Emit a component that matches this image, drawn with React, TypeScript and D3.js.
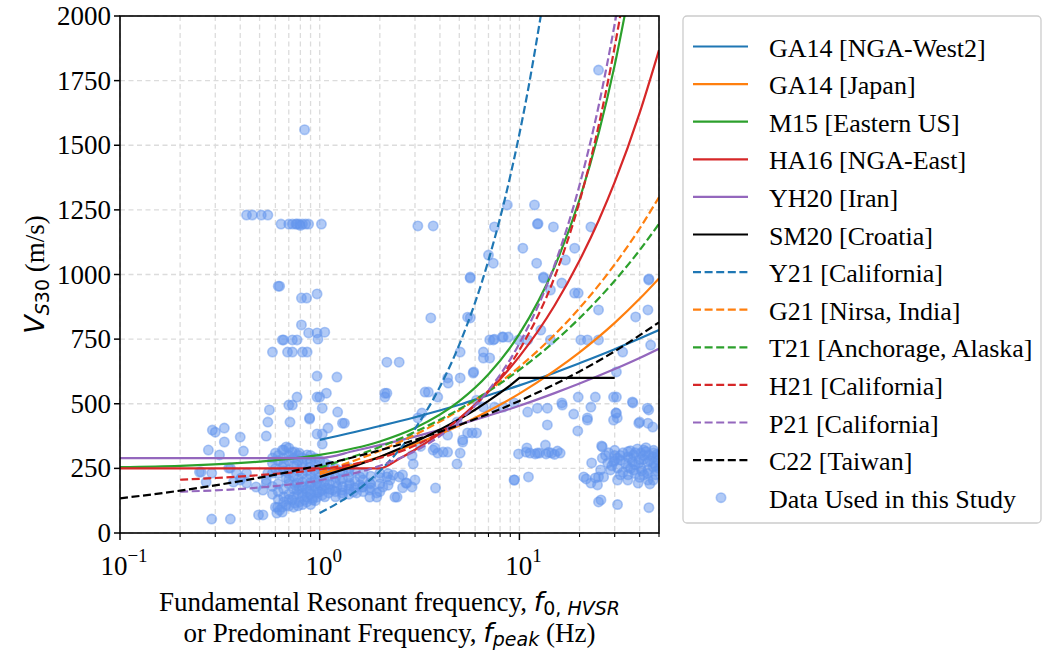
import React from 'react';
import * as d3 from 'd3';

const W = 1043;
const H = 653;
const PL = 120, PR = 659, PT = 16, PB = 533;

const yTicks = [0, 250, 500, 750, 1000, 1250, 1500, 1750, 2000];
const xMajor = [0.1, 1, 10];
const xMajorExp = ['\u22121', '0', '1'];

type P = [number, number];

const ga14West: P[] = [[1, 360], [2, 414], [3, 448], [5, 496], [7, 533], [10, 571], [15, 620], [20, 657], [30, 711], [40, 752], [50, 785]];
const ga14Japan: P[] = [[1, 228], [2, 295], [3, 344], [5, 416], [7, 472], [10, 539], [15, 628], [20, 699], [30, 813], [40, 906], [50, 985]];
const m15: P[] = [[0.1, 255], [0.2, 260], [0.5, 276], [1, 302], [2, 354], [3, 406], [5, 510], [7, 614], [10, 770], [15, 1030], [20, 1290], [25, 1550], [30, 1810], [35, 2070]];
const ha16: P[] = [[0.1, 250], [0.5, 250], [1, 250], [2, 250], [2.5, 287], [3, 322], [4, 385], [5, 443], [7, 547], [10, 683], [15, 880], [20, 1054], [25, 1211], [30, 1357], [40, 1625], [50, 1868]];
const yh20: P[] = [[0.1, 290], [0.5, 290], [1, 290], [1.5, 318], [2, 340], [3, 373], [5, 420], [7, 454], [10, 492], [15, 541], [20, 578], [30, 634], [40, 677], [50, 713]];
const sm20: P[] = [[1, 217], [1.5, 259], [2, 294], [3, 352], [4, 400], [5, 440], [6, 477], [7, 511], [8, 542], [9, 571], [10, 600], [30, 600]];
const y21: P[] = [[1, 77], [1.5, 159], [2, 240], [3, 403], [4, 566], [5, 729], [7, 1055], [9, 1381], [11, 1707], [13, 2033]];
const g21: P[] = [[1, 235], [2, 318], [3, 380], [5, 475], [7, 550], [10, 643], [15, 767], [20, 870], [30, 1039], [40, 1178], [50, 1299]];
const t21: P[] = [[1, 253], [2, 333], [3, 391], [5, 479], [7, 548], [10, 631], [15, 741], [20, 831], [30, 976], [40, 1094], [50, 1196]];
const h21: P[] = [[0.2, 206], [0.5, 224], [1, 246], [2, 290], [3, 338], [5, 442], [7, 548], [10, 708], [15, 990], [20, 1282], [25, 1580], [30, 1881], [33, 2060]];
const p21: P[] = [[0.2, 160], [0.5, 176], [1, 204], [2, 260], [3, 317], [5, 434], [7, 552], [10, 733], [15, 1037], [20, 1346], [25, 1657], [30, 1969], [32, 2090]];
const c22: P[] = [[0.1, 134], [0.2, 164], [0.5, 214], [1, 262], [2, 320], [3, 360], [5, 418], [10, 511], [20, 625], [30, 703], [50, 815]];

const seriesNames = ['GA14 [NGA-West2]', 'GA14 [Japan]', 'M15 [Eastern US]', 'HA16 [NGA-East]', 'YH20 [Iran]', 'SM20 [Croatia]', 'Y21 [California]', 'G21 [Nirsa, India]', 'T21 [Anchorage, Alaska]', 'H21 [California]', 'P21 [California]', 'C22 [Taiwan]'];
const seriesData = [ga14West, ga14Japan, m15, ha16, yh20, sm20, y21, g21, t21, h21, p21, c22];
const seriesColors = ['#1f77b4', '#ff7f0e', '#2ca02c', '#d62728', '#9467bd', '#000000', '#1f77b4', '#ff7f0e', '#2ca02c', '#d62728', '#9467bd', '#000000'];
const seriesDashed = [false, false, false, false, false, false, true, true, true, true, true, true];
const seriesSharp = [false, false, false, false, false, true, false, false, false, false, false, false];
const scatterLabel = 'Data Used in this Study';

const studyData: P[] = [
  [0.84, 1560],
  [0.43, 1230], [0.46, 1230], [0.51, 1230], [0.55, 1230],
  [0.64, 1195], [0.70, 1195], [0.73, 1195], [0.76, 1195], [0.79, 1195], [0.82, 1195], [0.85, 1195], [0.88, 1195], [1.02, 1195], [0.77, 1195], [0.80, 1190],
  [0.62, 955], [0.63, 955],
  [0.81, 909], [0.86, 909], [0.97, 925],
  [0.81, 805], [0.88, 774], [0.97, 774], [1.06, 777], [0.98, 750],
  [0.65, 747], [0.66, 747], [0.73, 747], [0.77, 747],
  [0.58, 700], [0.69, 700], [0.73, 700], [0.82, 700], [0.865, 700],
  [0.97, 607], [1.22, 603],
  [0.97, 526], [1.0, 526], [1.08, 541], [0.77, 526], [0.70, 495], [0.73, 495], [1.03, 483],
  [0.56, 476], [0.55, 429], [0.71, 429], [0.54, 375], [0.89, 441], [1.23, 468], [1.30, 425],
  [0.97, 383], [1.03, 383], [1.1, 406], [1.03, 344],
  [0.29, 398], [0.30, 390], [0.333, 406], [0.333, 352], [0.40, 371], [0.415, 317], [0.277, 321], [0.315, 302], [0.255, 236], [0.288, 232], [0.27, 197], [0.357, 251], [0.383, 232], [0.405, 213], [0.43, 232],
  [0.25, 236], [0.40, 205], [0.35, 251], [0.37, 197], [0.43, 193], [0.48, 178], [0.54, 193], [0.52, 166],
  [0.288, 54], [0.357, 54], [0.494, 70], [0.52, 70], [0.60, 100], [0.61, 77], [0.65, 81],
  [0.60, 309], [0.65, 321], [0.68, 333], [0.75, 313], [0.65, 255], [0.70, 244], [0.77, 263], [0.82, 251], [0.89, 255], [0.94, 244],
  [0.70, 205], [0.77, 193], [0.82, 197], [0.89, 186], [0.97, 193], [0.77, 166], [0.865, 159], [0.97, 166], [1.08, 174],
  [0.615, 100], [0.63, 89], [0.65, 100], [0.70, 104], [0.75, 116], [0.79, 120], [0.84, 128], [0.865, 139], [0.92, 135], [0.97, 139], [1.03, 147],
  [0.55, 232], [0.58, 232], [0.60, 250], [0.54, 205], [0.68, 213], [0.75, 186], [0.79, 174], [0.82, 155], [0.89, 166], [0.97, 155], [0.73, 128], [0.68, 108], [0.92, 128],
  [1.03, 166], [1.11, 155], [1.22, 178], [1.30, 166], [1.41, 186], [1.53, 155], [1.64, 178], [1.78, 166], [1.93, 155], [2.07, 178],
  [1.11, 232], [1.26, 236], [1.41, 251], [1.59, 217], [1.78, 193], [2.0, 232], [2.25, 205], [2.5, 217], [2.7, 193], [2.9, 178], [3.0, 205],
  [1.16, 166], [1.30, 155], [1.47, 159], [1.64, 178], [1.78, 139], [1.93, 139], [1.26, 205], [1.41, 193], [1.59, 186], [2.44, 139],
  [0.66, 321], [0.70, 329], [0.73, 313], [0.79, 309], [0.865, 302],
  [0.58, 290], [0.58, 270], [0.58, 180], [0.58, 150],
  [0.62, 300], [0.62, 280], [0.62, 230], [0.62, 190], [0.62, 160], [0.62, 130],
  [0.66, 290], [0.66, 270], [0.66, 240], [0.66, 170], [0.66, 140], [0.66, 120],
  [0.70, 300], [0.70, 280], [0.70, 230], [0.70, 190], [0.70, 150], [0.70, 130],
  [0.74, 290], [0.74, 260], [0.74, 220], [0.74, 170], [0.74, 140], [0.74, 100],
  [0.78, 300], [0.78, 280], [0.78, 240], [0.78, 210], [0.78, 150], [0.78, 105],
  [0.82, 290], [0.82, 270], [0.82, 230], [0.82, 180], [0.82, 140], [0.82, 110],
  [0.86, 285], [0.86, 240], [0.86, 210], [0.86, 170], [0.86, 120],
  [0.90, 300], [0.90, 275], [0.90, 225], [0.90, 195], [0.90, 150], [0.90, 110],
  [0.95, 290], [0.95, 265], [0.95, 230], [0.95, 205], [0.95, 180], [0.95, 125],
  [1.0, 280], [1.0, 250], [1.0, 215], [1.0, 185], [1.0, 160],
  [1.06, 270], [1.06, 245], [1.06, 200], [1.06, 185], [1.06, 140],
  [1.12, 260], [1.12, 220], [1.12, 190], [1.12, 170],
  [1.2, 250], [1.2, 215], [1.2, 195], [1.2, 160], [1.2, 140],
  [1.3, 240], [1.3, 210], [1.3, 180], [1.3, 145],
  [1.4, 235], [1.4, 215], [1.4, 170], [1.4, 150],
  [1.5, 240], [1.5, 200], [1.5, 175],
  [1.65, 230], [1.65, 205], [1.65, 160],
  [1.8, 220], [1.8, 190], [1.8, 175],
  [2.0, 215], [2.0, 190], [2.0, 160],
  [2.2, 230], [2.2, 185], [2.6, 225], [2.6, 175],
  [3.37, 545], [2.12, 541], [0.89, 445], [1.33, 425],
  [5.67, 986], [3.6, 832], [5.5, 835], [2.17, 661], [2.5, 661], [5.05, 700], [7.1, 747], [7.5, 750], [8.3, 758], [8.8, 758], [11.0, 747], [6.6, 700], [6.6, 677], [7.1, 677], [5.87, 619], [4.37, 600], [5.05, 600], [4.4, 580], [3.5, 545], [3.9, 526], [2.17, 541], [2.12, 526], [3.25, 464], [3.1, 445], [6.1, 514], [6.6, 487], [7.5, 487], [8.3, 487], [9.4, 503],
  [11.0, 468], [13.8, 418], [16.3, 503], [18.7, 460], [19.7, 526], [21.9, 445], [22.8, 487], [24, 526], [30.6, 526], [30.6, 464], [30.9, 445], [37, 503], [39.6, 425], [44, 425], [44.4, 476], [46.5, 410],
  [19.7, 928], [18.9, 928], [16.3, 967], [14.3, 940], [13.2, 986], [24.9, 863], [38.2, 836], [44, 863], [44.4, 979], [45.4, 727], [30.6, 623],
  [20.3, 747], [21.9, 747], [24.9, 747], [32.9, 700], [12.8, 785], [9.9, 747],
  [9.9, 306], [10.8, 313], [11.3, 309], [12.0, 306], [12.6, 309], [13.5, 340], [13.6, 306], [14.5, 309], [15.5, 317], [16.0, 309], [10.9, 329], [12.3, 309], [14.0, 312], [15.0, 304],
  [9.45, 205], [11.1, 217], [19.6, 395], [25.8, 337], [23, 271],
  [21.0, 217], [21.6, 209], [22.8, 193], [24, 213], [24.9, 217], [25.5, 244], [27.7, 271], [29.6, 275], [32.1, 282], [34.9, 294], [37.3, 302], [40.5, 309], [41.9, 321], [44.4, 302], [46.8, 294], [49.3, 282], [34.9, 255], [37.3, 244], [40.5, 251], [44, 244], [46.8, 255], [31, 205], [34.9, 205], [39.3, 193], [44, 205], [46.8, 205], [39.6, 271], [36.8, 275], [31, 251], [28.6, 244], [26.4, 217], [24.6, 186], [44, 275],
  [30, 300], [33, 310], [36, 318], [39, 325], [43, 330], [47, 320], [49, 305], [48, 260], [42, 285], [38, 265], [33, 235], [29, 260], [26, 290], [48, 225], [45, 190], [35, 225], [42, 225], [49, 240], [31, 290], [41, 240],
  [28, 310], [30, 280], [32, 300], [34, 270], [36, 290], [38, 310], [40, 285], [42, 300], [45, 280], [47, 310], [50, 300], [36, 250], [40, 215], [44, 230], [47, 270], [32, 225], [50, 250], [38, 230], [35, 315], [43, 315], [27, 300], [30, 320],
  [24.9, 120], [25.6, 128], [31, 110], [44.5, 98],
  [3.7, 321], [3.9, 309], [4.37, 313], [5.05, 309], [4.87, 267], [3.8, 174], [2.38, 139], [2.73, 193], [2.94, 267], [2.33, 224], [2.17, 217],
  [5.5, 387], [5.8, 387], [6.1, 387], [5.2, 352], [4.37, 379], [4.87, 429], [9.4, 205],
  [3.78, 329], [4.15, 313], [5.2, 360], [3.2, 335], [2.9, 300],
  [3.1, 1188], [3.7, 1188], [8.7, 1269], [11.9, 1269], [7.5, 1184], [12.3, 1195], [12.4, 1197], [14.8, 1184], [22.8, 1184], [7.0, 1075], [7.4, 1044], [10.4, 1102], [12.2, 1044], [17, 1056], [18.9, 1102], [24.9, 1791], [5.67, 990], [13.2, 990], [44.5, 983],
  [5.67, 832], [7.4, 747], [8.2, 758], [5.9, 623], [12.3, 483], [13.8, 483], [16.4, 495], [21.9, 437], [29.6, 526], [26, 333], [14.3, 747], [43.7, 483], [40, 429], [30.4, 464], [29.6, 437], [36.8, 507],
];

const SERIF = '"Liberation Serif", "Times New Roman", serif';
const MATH = '"DejaVu Sans", sans-serif';
const PT_COLOR = '#6495ED';

export default function App() {
  const x = d3.scaleLog().domain([0.1, 50]).range([PL, PR]);
  const y = d3.scaleLinear().domain([0, 2000]).range([PB, PT]);

  const minor: number[] = [];
  [0.1, 1, 10].forEach((d) => {
    for (let k = 2; k <= 9; k++) {
      const v = d * k;
      if (v <= 50.0001) minor.push(v);
    }
  });
  const allX = [...xMajor, ...minor];

  const smooth = d3.line<P>().x((d) => x(d[0])).y((d) => y(d[1])).curve(d3.curveMonotoneX);
  const sharp = d3.line<P>().x((d) => x(d[0])).y((d) => y(d[1])).curve(d3.curveLinear);

  const legX = 683, legY = 16, legW = 358, legH = 507;
  const rowY0 = 46.5, rowStep = 37.6;

  return (
    <svg width={W} height={H} style={{ position: 'absolute', left: 0, top: 0, background: '#fff' }}>
      <defs>
        <clipPath id="plotclip">
          <rect x={PL} y={PT} width={PR - PL} height={PB - PT} />
        </clipPath>
      </defs>
      <rect x={0} y={0} width={W} height={H} fill="#fff" />
      <g stroke="#dcdcdc" strokeWidth={1.3} strokeDasharray="5,3.5">
        {allX.map((v, i) => (
          <line key={'gx' + i} x1={x(v)} x2={x(v)} y1={PT} y2={PB} />
        ))}
        {yTicks.map((v, i) => (
          <line key={'gy' + i} x1={PL} x2={PR} y1={y(v)} y2={y(v)} />
        ))}
      </g>
      <g clipPath="url(#plotclip)">
        {studyData.map((d, i) => (
          <circle
            key={'p' + i}
            cx={x(d[0])}
            cy={y(d[1])}
            r={4.7}
            fill={PT_COLOR}
            fillOpacity={0.5}
            stroke={PT_COLOR}
            strokeOpacity={0.5}
            strokeWidth={1.6}
          />
        ))}
      </g>
      <g clipPath="url(#plotclip)" fill="none">
        {seriesData.map((data, i) => (
          <path
            key={'s' + i}
            d={(seriesSharp[i] ? sharp(data) : smooth(data)) || ''}
            stroke={seriesColors[i]}
            strokeWidth={2.2}
            strokeDasharray={seriesDashed[i] ? '8,3.6' : undefined}
          />
        ))}
      </g>
      <rect x={PL} y={PT} width={PR - PL} height={PB - PT} fill="none" stroke="#000" strokeWidth={1.6} />
      {yTicks.map((v, i) => (
        <g key={'yt' + i}>
          <line x1={PL - 6} x2={PL} y1={y(v)} y2={y(v)} stroke="#000" strokeWidth={1.5} />
          <text x={PL - 9} y={y(v) + 9} textAnchor="end" fontFamily={SERIF} fontSize={27} fill="#000">
            {v}
          </text>
        </g>
      ))}
      {xMajor.map((v, i) => (
        <g key={'xt' + i}>
          <line x1={x(v)} x2={x(v)} y1={PB} y2={PB + 7} stroke="#000" strokeWidth={1.5} />
          <text x={x(v) + 4} y={PB + 42} textAnchor="middle" fontFamily={SERIF} fontSize={27} fill="#000">
            <tspan>10</tspan>
            <tspan dy={-13} fontSize={19}>{xMajorExp[i]}</tspan>
          </text>
        </g>
      ))}
      {minor.map((v, i) => (
        <line key={'xm' + i} x1={x(v)} x2={x(v)} y1={PB} y2={PB + 4} stroke="#000" strokeWidth={1.1} />
      ))}
      <text x={(PL + PR) / 2} y={611} textAnchor="middle" fontFamily={SERIF} fontSize={27} fill="#000">
        <tspan>Fundamental Resonant frequency, </tspan>
        <tspan fontFamily={MATH} fontStyle="italic">f</tspan>
        <tspan fontFamily={MATH} fontSize={19} dy={4}>0, </tspan>
        <tspan fontFamily={MATH} fontStyle="italic" fontSize={19}>HVSR</tspan>
      </text>
      <text x={(PL + PR) / 2} y={642} textAnchor="middle" fontFamily={SERIF} fontSize={27} fill="#000">
        <tspan>or Predominant Frequency, </tspan>
        <tspan fontFamily={MATH} fontStyle="italic">f</tspan>
        <tspan fontFamily={MATH} fontStyle="italic" fontSize={19} dy={4}>peak</tspan>
        <tspan dy={-4}> (Hz)</tspan>
      </text>
      <text transform={`translate(44, ${(PT + PB) / 2}) rotate(-90)`} textAnchor="middle" fontFamily={SERIF} fontSize={27} fill="#000">
        <tspan fontFamily={MATH} fontStyle="italic">V</tspan>
        <tspan fontFamily={MATH} fontStyle="italic" fontSize={19} dy={5}>S</tspan>
        <tspan fontFamily={MATH} fontSize={19}>30</tspan>
        <tspan dy={-5}> (m/s)</tspan>
      </text>
      <rect x={legX} y={legY} width={legW} height={legH} rx={4} fill="#fff" fillOpacity={0.8} stroke="#cccccc" strokeWidth={1.3} />
      {seriesNames.map((name, i) => {
        const cy = rowY0 + i * rowStep;
        return (
          <g key={'lg' + i}>
            <line
              x1={693}
              x2={748}
              y1={cy}
              y2={cy}
              stroke={seriesColors[i]}
              strokeWidth={2.2}
              strokeDasharray={seriesDashed[i] ? '8,3.6' : undefined}
            />
            <text x={769} y={cy + 10} fontFamily={SERIF} fontSize={26} fill="#000">
              {name}
            </text>
          </g>
        );
      })}
      {(() => {
        const cy = rowY0 + seriesNames.length * rowStep;
        return (
          <g>
            <circle cx={721} cy={cy} r={4.7} fill={PT_COLOR} fillOpacity={0.5} stroke={PT_COLOR} strokeOpacity={0.5} strokeWidth={1.6} />
            <text x={769} y={cy + 10} fontFamily={SERIF} fontSize={26} fill="#000">
              {scatterLabel}
            </text>
          </g>
        );
      })()}
    </svg>
  );
}
